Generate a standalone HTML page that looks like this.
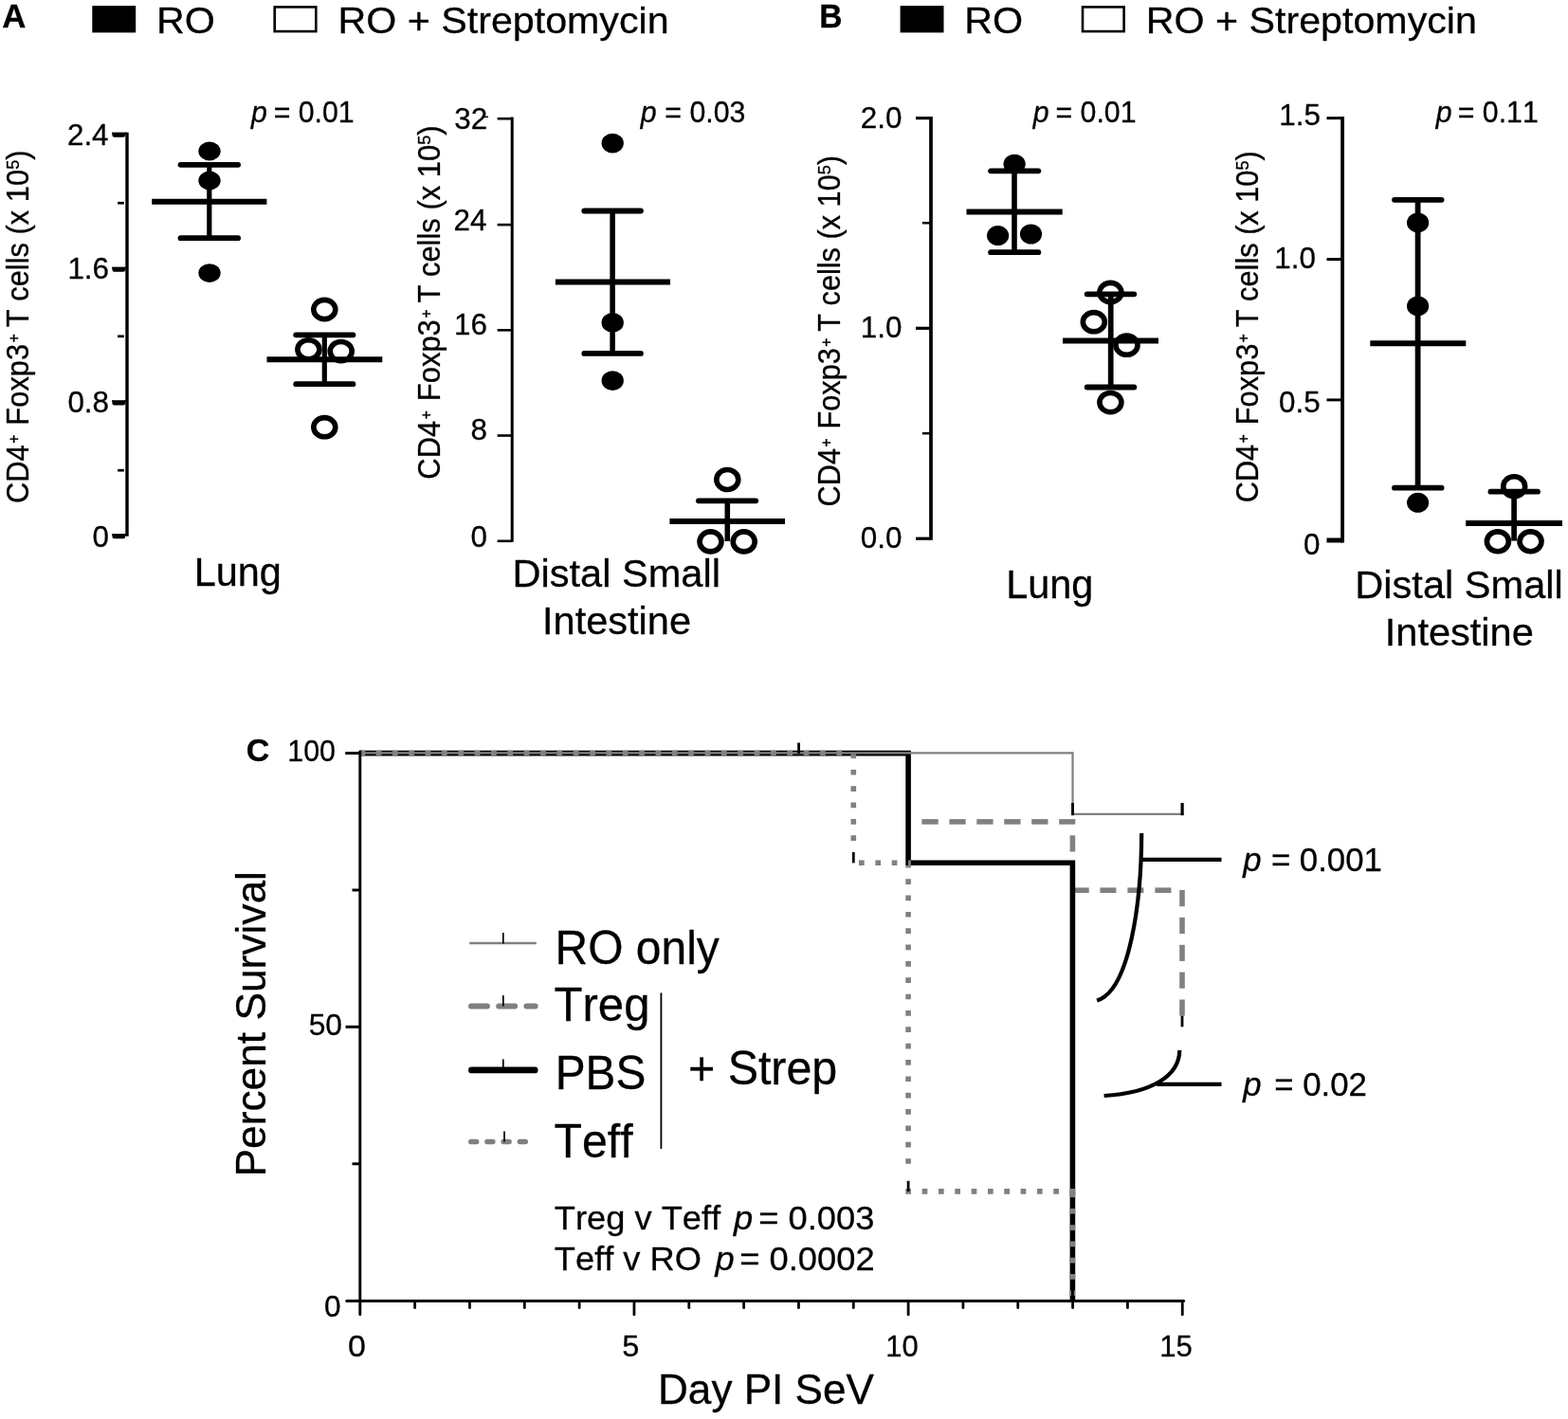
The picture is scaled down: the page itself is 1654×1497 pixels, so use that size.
<!DOCTYPE html>
<html lang="en"><head><meta charset="utf-8"><title>Figure</title>
<style>html,body{margin:0;padding:0;background:#fff}svg{display:block}text{font-family:"Liberation Sans",Arial,Helvetica,sans-serif;fill:#000;stroke:#000;stroke-width:0.3px;stroke-linejoin:round;font-kerning:none}</style>
</head><body>
<svg width="1654" height="1497" viewBox="0 0 1654 1497">
<rect width="1654" height="1497" fill="#fff"/>
<g id="legend-top">
<text transform="translate(2.33 28.8) scale(1.0000 0.9941)" font-size="34.78" font-weight="bold" stroke-width="0.2">A</text>
<text transform="translate(864.22 28.8) scale(1.0000 1.0287)" font-size="33.61" font-weight="bold" stroke-width="0.2">B</text>
<rect x="97.3" y="6.1" width="45.9" height="28.3"/>
<text transform="translate(164.94 34.8) scale(1.0000 0.9457)" font-size="41.31" stroke-width="0.3">RO</text>
<rect x="289.7" y="7.4" width="43.6" height="25.7" fill="#fff" stroke="#000" stroke-width="2.6"/>
<text transform="translate(356.55 35.1) scale(1.0000 0.9518)" font-size="41.2" stroke-width="0.3">RO + Streptomycin</text>
<rect x="949.6" y="6.1" width="45.9" height="28.3"/>
<text transform="translate(1017.24 34.8) scale(1.0000 0.9457)" font-size="41.31" stroke-width="0.3">RO</text>
<rect x="1142" y="7.4" width="43.6" height="25.7" fill="#fff" stroke="#000" stroke-width="2.6"/>
<text transform="translate(1208.85 35.1) scale(1.0000 0.9518)" font-size="41.2" stroke-width="0.3">RO + Streptomycin</text>
</g>
<g id="panelA-lung">
<line x1="134" y1="139.7" x2="134" y2="565.7" stroke="#000" stroke-width="3.4"/>
<line x1="118" y1="140.6" x2="134" y2="140.6" stroke="#000" stroke-width="2"/>
<line x1="120.6" y1="142.6" x2="130" y2="142.6" stroke="#000" stroke-width="4.4" stroke-linecap="round"/>
<text x="70.95" y="153.1" font-size="31.4" stroke-width="0.5">2.4</text>
<line x1="118" y1="282.6" x2="134" y2="282.6" stroke="#000" stroke-width="2"/>
<line x1="120.6" y1="284.6" x2="130" y2="284.6" stroke="#000" stroke-width="4.4" stroke-linecap="round"/>
<text x="71.42" y="294.3" font-size="31.4" stroke-width="0.5">1.6</text>
<line x1="118" y1="423.2" x2="134" y2="423.2" stroke="#000" stroke-width="2"/>
<line x1="120.6" y1="425.2" x2="130" y2="425.2" stroke="#000" stroke-width="4.4" stroke-linecap="round"/>
<text x="71.42" y="435.2" font-size="31.4" stroke-width="0.5">0.8</text>
<line x1="118" y1="564.1" x2="134" y2="564.1" stroke="#000" stroke-width="2"/>
<line x1="120.6" y1="566.1" x2="130" y2="566.1" stroke="#000" stroke-width="4.4" stroke-linecap="round"/>
<text x="97.48" y="576.8" font-size="31.4" stroke-width="0.5">0</text>
<line x1="124.1" y1="214.2" x2="130.8" y2="214.2" stroke="#000" stroke-width="2.7"/>
<line x1="124.1" y1="354.8" x2="130.8" y2="354.8" stroke="#000" stroke-width="2.7"/>
<line x1="124.1" y1="496.2" x2="130.8" y2="496.2" stroke="#000" stroke-width="2.7"/>
<text transform="translate(29.7 531.09) rotate(-90) scale(1.0028 1.0600)" font-size="30.8" stroke-width="0.3">CD4<tspan font-size="0.5em" dx="0.1em" dy="-0.58em" stroke-width="0.5">+</tspan><tspan dx="0.05em" dy="0.29em"> Foxp3</tspan><tspan font-size="0.5em" dx="0.1em" dy="-0.58em" stroke-width="0.5">+</tspan><tspan dx="-0.05em" dy="0.29em"> T cells (x 10</tspan><tspan font-size="0.59em" dy="-0.52em">5</tspan><tspan dy="0.307em">)</tspan></text>
<text transform="translate(264.46 128.8) scale(1 1.0325)" font-size="30.3" stroke-width="0.2"><tspan font-style="italic" dx="0.42">p</tspan><tspan dx="-1.5"> = 0.01</tspan></text>
<ellipse cx="342.3" cy="326.5" rx="11.5" ry="10.1" fill="none" stroke="#000" stroke-width="5.6"/>
<ellipse cx="325.4" cy="368.8" rx="11.5" ry="10.1" fill="none" stroke="#000" stroke-width="5.6"/>
<ellipse cx="359.7" cy="370.6" rx="11.5" ry="10.1" fill="none" stroke="#000" stroke-width="5.6"/>
<ellipse cx="342.3" cy="450.7" rx="11.5" ry="10.1" fill="none" stroke="#000" stroke-width="5.6"/>
<line x1="220.8" y1="173.8" x2="220.8" y2="251.2" stroke="#000" stroke-width="5.2"/>
<line x1="190.5" y1="173.8" x2="251.1" y2="173.8" stroke="#000" stroke-width="5.8" stroke-linecap="round"/>
<line x1="190.5" y1="251.2" x2="251.1" y2="251.2" stroke="#000" stroke-width="5.8" stroke-linecap="round"/>
<line x1="160.2" y1="212.8" x2="281.4" y2="212.8" stroke="#000" stroke-width="6"/>
<ellipse cx="221" cy="159.5" rx="11.65" ry="9.9"/>
<ellipse cx="221" cy="190.5" rx="11.65" ry="9.9"/>
<ellipse cx="221" cy="288.1" rx="11.65" ry="9.9"/>
<line x1="342.3" y1="353.3" x2="342.3" y2="405.2" stroke="#000" stroke-width="5.2"/>
<line x1="312.2" y1="353.3" x2="372.4" y2="353.3" stroke="#000" stroke-width="5.8" stroke-linecap="round"/>
<line x1="312.2" y1="405.2" x2="372.4" y2="405.2" stroke="#000" stroke-width="5.8" stroke-linecap="round"/>
<line x1="281.5" y1="379.2" x2="403.3" y2="379.2" stroke="#000" stroke-width="6"/>
<text transform="translate(204.73 618.4) scale(1.0000 1.0255)" font-size="41.44" stroke-width="0.3">Lung</text>
</g>
<g id="panelA-si">
<line x1="540.2" y1="123.5" x2="540.2" y2="571.8" stroke="#000" stroke-width="3"/>
<line x1="524.6" y1="125.2" x2="540.2" y2="125.2" stroke="#000" stroke-width="2.6"/>
<text x="479.37" y="135.7" font-size="31.4" stroke-width="0.5">32</text>
<line x1="524.6" y1="237.1" x2="540.2" y2="237.1" stroke="#000" stroke-width="2.6"/>
<text x="478.58" y="242.9" font-size="31.4" stroke-width="0.5">24</text>
<line x1="524.6" y1="348.3" x2="540.2" y2="348.3" stroke="#000" stroke-width="2.6"/>
<text x="479.05" y="353.4" font-size="31.4" stroke-width="0.5">16</text>
<line x1="524.6" y1="459.5" x2="540.2" y2="459.5" stroke="#000" stroke-width="2.6"/>
<text x="496.48" y="463.8" font-size="31.4" stroke-width="0.5">8</text>
<line x1="524.6" y1="570.8" x2="540.2" y2="570.8" stroke="#000" stroke-width="2.6"/>
<text x="496.48" y="576.8" font-size="31.4" stroke-width="0.5">0</text>
<line x1="508.8" y1="123.3" x2="515" y2="123.3" stroke="#000" stroke-width="1.5"/>
<text transform="translate(464.1 505.7) rotate(-90) scale(1.0042 1.0600)" font-size="30.8" stroke-width="0.3">CD4<tspan font-size="0.5em" dx="0.1em" dy="-0.58em" stroke-width="0.5">+</tspan><tspan dx="0.05em" dy="0.29em"> Foxp3</tspan><tspan font-size="0.5em" dx="0.1em" dy="-0.58em" stroke-width="0.5">+</tspan><tspan dx="-0.05em" dy="0.29em"> T cells (x 10</tspan><tspan font-size="0.59em" dy="-0.52em">5</tspan><tspan dy="0.307em">)</tspan></text>
<text transform="translate(675.26 128.6) scale(1 1.0325)" font-size="30.3" stroke-width="0.2"><tspan font-style="italic" dx="0.42">p</tspan><tspan dx="0.44"> = 0.03</tspan></text>
<ellipse cx="767.3" cy="506" rx="11.5" ry="10.5" fill="none" stroke="#000" stroke-width="5.6"/>
<ellipse cx="749.5" cy="571.4" rx="11.5" ry="10.5" fill="none" stroke="#000" stroke-width="5.6"/>
<ellipse cx="784.7" cy="571.4" rx="11.5" ry="10.5" fill="none" stroke="#000" stroke-width="5.6"/>
<line x1="646.1" y1="222.5" x2="646.1" y2="372.9" stroke="#000" stroke-width="5.5"/>
<line x1="616.3" y1="222.5" x2="675.9" y2="222.5" stroke="#000" stroke-width="5.8" stroke-linecap="round"/>
<line x1="616.3" y1="372.9" x2="675.9" y2="372.9" stroke="#000" stroke-width="5.8" stroke-linecap="round"/>
<line x1="585.9" y1="297.6" x2="707" y2="297.6" stroke="#000" stroke-width="6"/>
<ellipse cx="646.2" cy="151.1" rx="11.65" ry="10.3"/>
<ellipse cx="646.2" cy="340.4" rx="11.65" ry="10.3"/>
<ellipse cx="646.2" cy="401.6" rx="11.65" ry="10.3"/>
<line x1="767.3" y1="528.3" x2="767.3" y2="571" stroke="#000" stroke-width="5.6"/>
<line x1="736.9" y1="528.3" x2="797.2" y2="528.3" stroke="#000" stroke-width="5.8" stroke-linecap="round"/>
<line x1="706.4" y1="549.9" x2="828" y2="549.9" stroke="#000" stroke-width="6"/>
<text transform="translate(540.52 618.5) scale(1.0000 0.9981)" font-size="41.58" stroke-width="0.3">Distal Small</text>
<text x="572.01" y="668.5" font-size="41.54" stroke-width="0.3">Intestine</text>
</g>
<g id="panelB-lung">
<line x1="982" y1="123" x2="982" y2="569.8" stroke="#000" stroke-width="3.7"/>
<line x1="966" y1="124.6" x2="982" y2="124.6" stroke="#000" stroke-width="3.2"/>
<text x="907.76" y="135.4" font-size="31.4" stroke-width="0.5">2.0</text>
<line x1="966" y1="346.3" x2="982" y2="346.3" stroke="#000" stroke-width="3.2"/>
<text x="907.76" y="355.6" font-size="31.4" stroke-width="0.5">1.0</text>
<line x1="966" y1="568.2" x2="982" y2="568.2" stroke="#000" stroke-width="3.2"/>
<text x="907.76" y="578.3" font-size="31.4" stroke-width="0.5">0.0</text>
<line x1="972.9" y1="235.2" x2="982" y2="235.2" stroke="#000" stroke-width="2.5"/>
<line x1="972.9" y1="457.2" x2="982" y2="457.2" stroke="#000" stroke-width="2.5"/>
<text transform="translate(886.1 534.39) rotate(-90) scale(0.9968 1.0600)" font-size="30.8" stroke-width="0.3">CD4<tspan font-size="0.5em" dx="0.1em" dy="-0.58em" stroke-width="0.5">+</tspan><tspan dx="0.05em" dy="0.29em"> Foxp3</tspan><tspan font-size="0.5em" dx="0.1em" dy="-0.58em" stroke-width="0.5">+</tspan><tspan dx="-0.05em" dy="0.29em"> T cells (x 10</tspan><tspan font-size="0.59em" dy="-0.52em">5</tspan><tspan dy="0.307em">)</tspan></text>
<text transform="translate(1089.26 129.4) scale(1 1.0325)" font-size="30.3" stroke-width="0.2"><tspan font-style="italic" dx="0.42">p</tspan><tspan dx="-1.5"> = 0.01</tspan></text>
<ellipse cx="1171.4" cy="308.5" rx="11.5" ry="10.1" fill="none" stroke="#000" stroke-width="5.6"/>
<ellipse cx="1153.8" cy="339.7" rx="11.5" ry="10.1" fill="none" stroke="#000" stroke-width="5.6"/>
<ellipse cx="1188.5" cy="364.2" rx="11.5" ry="10.1" fill="none" stroke="#000" stroke-width="5.6"/>
<ellipse cx="1171.4" cy="424.6" rx="11.5" ry="10.1" fill="none" stroke="#000" stroke-width="5.6"/>
<line x1="1070" y1="180.3" x2="1070" y2="266.2" stroke="#000" stroke-width="5.6"/>
<line x1="1045.1" y1="180.3" x2="1095.3" y2="180.3" stroke="#000" stroke-width="5.8" stroke-linecap="round"/>
<line x1="1045.1" y1="266.2" x2="1095.3" y2="266.2" stroke="#000" stroke-width="5.8" stroke-linecap="round"/>
<line x1="1019.5" y1="223.5" x2="1120.7" y2="223.5" stroke="#000" stroke-width="6"/>
<ellipse cx="1070.1" cy="173.2" rx="11.6" ry="10.5"/>
<ellipse cx="1052.6" cy="248.6" rx="11.6" ry="10.5"/>
<ellipse cx="1087.5" cy="247" rx="11.6" ry="10.5"/>
<line x1="1171.7" y1="310.3" x2="1171.7" y2="408.5" stroke="#000" stroke-width="5.7"/>
<line x1="1146.7" y1="310.3" x2="1196.3" y2="310.3" stroke="#000" stroke-width="5.8" stroke-linecap="round"/>
<line x1="1146.7" y1="408.5" x2="1196.3" y2="408.5" stroke="#000" stroke-width="5.8" stroke-linecap="round"/>
<line x1="1121" y1="359.5" x2="1222" y2="359.5" stroke="#000" stroke-width="6"/>
<text transform="translate(1061.23 630.8) scale(1.0000 1.0255)" font-size="41.44" stroke-width="0.3">Lung</text>
</g>
<g id="panelB-si">
<line x1="1416.1" y1="123" x2="1416.1" y2="572.5" stroke="#000" stroke-width="3.8"/>
<line x1="1399.5" y1="124.6" x2="1416.1" y2="124.6" stroke="#000" stroke-width="3"/>
<text x="1349.26" y="132.3" font-size="31.4" stroke-width="0.5">1.5</text>
<line x1="1399.5" y1="273.6" x2="1416.1" y2="273.6" stroke="#000" stroke-width="3"/>
<text x="1344.26" y="282.6" font-size="31.4" stroke-width="0.5">1.0</text>
<line x1="1399.5" y1="421.9" x2="1416.1" y2="421.9" stroke="#000" stroke-width="2.9"/>
<text x="1349.06" y="434.5" font-size="31.4" stroke-width="0.5">0.5</text>
<line x1="1399.5" y1="570" x2="1416.1" y2="570" stroke="#000" stroke-width="5"/>
<text x="1375.08" y="584.6" font-size="31.4" stroke-width="0.5">0</text>
<text transform="translate(1326.7 530.29) rotate(-90) scale(0.9985 1.0600)" font-size="30.8" stroke-width="0.3">CD4<tspan font-size="0.5em" dx="0.1em" dy="-0.58em" stroke-width="0.5">+</tspan><tspan dx="0.05em" dy="0.29em"> Foxp3</tspan><tspan font-size="0.5em" dx="0.1em" dy="-0.58em" stroke-width="0.5">+</tspan><tspan dx="-0.05em" dy="0.29em"> T cells (x 10</tspan><tspan font-size="0.59em" dy="-0.52em">5</tspan><tspan dy="0.307em">)</tspan></text>
<text transform="translate(1514.26 129.4) scale(1 1.0325)" font-size="30.3" stroke-width="0.2"><tspan font-style="italic" dx="0.42">p</tspan><tspan dx="-2.2"> = 0.11</tspan></text>
<ellipse cx="1597.2" cy="513.2" rx="11.5" ry="10.4" fill="none" stroke="#000" stroke-width="5.6"/>
<ellipse cx="1579.9" cy="571.3" rx="11.5" ry="10.4" fill="none" stroke="#000" stroke-width="5.6"/>
<ellipse cx="1614.5" cy="571.3" rx="11.5" ry="10.4" fill="none" stroke="#000" stroke-width="5.6"/>
<line x1="1495.6" y1="210.8" x2="1495.6" y2="514.7" stroke="#000" stroke-width="5.8"/>
<line x1="1471" y1="210.8" x2="1520.6" y2="210.8" stroke="#000" stroke-width="5.8" stroke-linecap="round"/>
<line x1="1471" y1="514.7" x2="1520.6" y2="514.7" stroke="#000" stroke-width="5.8" stroke-linecap="round"/>
<line x1="1445.3" y1="362.3" x2="1546.3" y2="362.3" stroke="#000" stroke-width="6"/>
<ellipse cx="1495.6" cy="234.9" rx="11.6" ry="10.5"/>
<ellipse cx="1495.6" cy="322.9" rx="11.6" ry="10.5"/>
<ellipse cx="1495.6" cy="530.3" rx="11.6" ry="10.5"/>
<line x1="1597.1" y1="518.7" x2="1597.1" y2="570.6" stroke="#000" stroke-width="5.7"/>
<line x1="1572.4" y1="518.7" x2="1622" y2="518.7" stroke="#000" stroke-width="5.8" stroke-linecap="round"/>
<line x1="1546.2" y1="552.1" x2="1648" y2="552.1" stroke="#000" stroke-width="6"/>
<text transform="translate(1429.32 630.5) scale(1.0000 0.9981)" font-size="41.58" stroke-width="0.3">Distal Small</text>
<text x="1460.81" y="680.5" font-size="41.54" stroke-width="0.3">Intestine</text>
</g>
<g id="panelC">
<text x="259.64" y="802.8" font-size="34.05" font-weight="bold" stroke-width="0.2">C</text>
<line x1="972.4" y1="866.9" x2="989.7" y2="866.9" stroke="#808080" stroke-width="5.6"/>
<line x1="1001.35" y1="866.9" x2="1018.65" y2="866.9" stroke="#808080" stroke-width="5.6"/>
<line x1="1030.3" y1="866.9" x2="1047.6" y2="866.9" stroke="#808080" stroke-width="5.6"/>
<line x1="1059.25" y1="866.9" x2="1076.55" y2="866.9" stroke="#808080" stroke-width="5.6"/>
<line x1="1088.2" y1="866.9" x2="1105.5" y2="866.9" stroke="#808080" stroke-width="5.6"/>
<line x1="1117.15" y1="866.9" x2="1134.3" y2="866.9" stroke="#808080" stroke-width="5.6"/>
<line x1="1131.4" y1="881.3" x2="1131.4" y2="898.5" stroke="#808080" stroke-width="5.6"/>
<line x1="1131.4" y1="939.2" x2="1148.7" y2="939.2" stroke="#808080" stroke-width="5.6"/>
<line x1="1160.4" y1="939.2" x2="1177.4" y2="939.2" stroke="#808080" stroke-width="5.6"/>
<line x1="1189.4" y1="939.2" x2="1206.4" y2="939.2" stroke="#808080" stroke-width="5.6"/>
<line x1="1218.4" y1="939.2" x2="1235.4" y2="939.2" stroke="#808080" stroke-width="5.6"/>
<line x1="1247" y1="939" x2="1247" y2="956.2" stroke="#808080" stroke-width="5.6"/>
<line x1="1247" y1="967.9" x2="1247" y2="985" stroke="#808080" stroke-width="5.6"/>
<line x1="1247" y1="996.8" x2="1247" y2="1013.9" stroke="#808080" stroke-width="5.6"/>
<line x1="1247" y1="1025.6" x2="1247" y2="1042.7" stroke="#808080" stroke-width="5.6"/>
<line x1="1247" y1="1054.5" x2="1247" y2="1071.6" stroke="#808080" stroke-width="5.6"/>
<polyline points="379.8,794.6 958.1,794.6 958.1,910.2 1131.4,910.2 1131.4,1372.5" fill="none" stroke="#000" stroke-width="5.6"/>
<line x1="379.8" y1="794.6" x2="385.3" y2="794.6" stroke="#808080" stroke-width="5.6"/>
<line x1="379.8" y1="794.6" x2="897.5" y2="794.6" stroke="#808080" stroke-width="5.6" stroke-dasharray="5.7 11.65" stroke-dashoffset="0.55"/>
<line x1="900.3" y1="795.2" x2="900.3" y2="799.9" stroke="#808080" stroke-width="5.6"/>
<line x1="900.3" y1="800" x2="900.3" y2="893" stroke="#808080" stroke-width="5.6" stroke-dasharray="5.7 11.65" stroke-dashoffset="5.45"/>
<line x1="900.3" y1="910.2" x2="960.9" y2="910.2" stroke="#808080" stroke-width="5.6" stroke-dasharray="5.7 11.65" stroke-dashoffset="11.65"/>
<line x1="958.1" y1="913" x2="958.1" y2="1236" stroke="#808080" stroke-width="5.6" stroke-dasharray="5.7 11.65" stroke-dashoffset="3.15"/>
<line x1="955.3" y1="1256.9" x2="1134.2" y2="1256.9" stroke="#808080" stroke-width="5.6" stroke-dasharray="5.7 11.63" stroke-dashoffset="0"/>
<line x1="1131.4" y1="1256.9" x2="1131.4" y2="1371" stroke="#808080" stroke-width="5.6" stroke-dasharray="5.7 11.6" stroke-dashoffset="16.6"/>
<polyline points="379.8,794.4 1131.5,794.4 1131.5,858.9 1248.6,858.9" fill="none" stroke="#808080" stroke-width="2.2"/>
<line x1="842.6" y1="783.6" x2="842.6" y2="795" stroke="#000" stroke-width="2.8"/>
<line x1="1131.5" y1="847.1" x2="1131.5" y2="860.2" stroke="#000" stroke-width="2.8"/>
<line x1="1247.1" y1="847.1" x2="1247.1" y2="860.2" stroke="#000" stroke-width="3.2"/>
<line x1="1247" y1="1071.6" x2="1247" y2="1083.3" stroke="#000" stroke-width="2.8"/>
<line x1="900.3" y1="899" x2="900.3" y2="910.4" stroke="#000" stroke-width="2.8"/>
<line x1="958.1" y1="1245.8" x2="958.1" y2="1257" stroke="#000" stroke-width="2.8"/>
<line x1="1131.4" y1="1360.6" x2="1131.4" y2="1372.5" stroke="#000" stroke-width="2.8"/>
<line x1="379.8" y1="792.9" x2="379.8" y2="1386.8" stroke="#000" stroke-width="2.9" stroke-linecap="round"/>
<line x1="365.8" y1="1372.5" x2="1248.6" y2="1372.5" stroke="#000" stroke-width="3" stroke-linecap="round"/>
<line x1="364.2" y1="794.6" x2="379.8" y2="794.6" stroke="#000" stroke-width="2.9"/>
<line x1="364.6" y1="1083.3" x2="379.8" y2="1083.3" stroke="#000" stroke-width="3"/>
<line x1="371.5" y1="939" x2="379.8" y2="939" stroke="#000" stroke-width="2.9"/>
<line x1="371.5" y1="1227.8" x2="379.8" y2="1227.8" stroke="#000" stroke-width="2.9"/>
<line x1="437.63" y1="1372.5" x2="437.63" y2="1379.7" stroke="#000" stroke-width="2.8" stroke-linecap="round"/>
<line x1="495.46" y1="1372.5" x2="495.46" y2="1379.7" stroke="#000" stroke-width="2.8" stroke-linecap="round"/>
<line x1="553.29" y1="1372.5" x2="553.29" y2="1379.7" stroke="#000" stroke-width="2.8" stroke-linecap="round"/>
<line x1="611.12" y1="1372.5" x2="611.12" y2="1379.7" stroke="#000" stroke-width="2.8" stroke-linecap="round"/>
<line x1="668.95" y1="1372.5" x2="668.95" y2="1386.9" stroke="#000" stroke-width="2.8" stroke-linecap="round"/>
<line x1="726.78" y1="1372.5" x2="726.78" y2="1379.7" stroke="#000" stroke-width="2.8" stroke-linecap="round"/>
<line x1="784.61" y1="1372.5" x2="784.61" y2="1379.7" stroke="#000" stroke-width="2.8" stroke-linecap="round"/>
<line x1="842.44" y1="1372.5" x2="842.44" y2="1379.7" stroke="#000" stroke-width="2.8" stroke-linecap="round"/>
<line x1="900.27" y1="1372.5" x2="900.27" y2="1379.7" stroke="#000" stroke-width="2.8" stroke-linecap="round"/>
<line x1="958.1" y1="1372.5" x2="958.1" y2="1386.9" stroke="#000" stroke-width="2.8" stroke-linecap="round"/>
<line x1="1015.93" y1="1372.5" x2="1015.93" y2="1379.7" stroke="#000" stroke-width="2.8" stroke-linecap="round"/>
<line x1="1073.76" y1="1372.5" x2="1073.76" y2="1379.7" stroke="#000" stroke-width="2.8" stroke-linecap="round"/>
<line x1="1131.59" y1="1372.5" x2="1131.59" y2="1379.7" stroke="#000" stroke-width="2.8" stroke-linecap="round"/>
<line x1="1189.42" y1="1372.5" x2="1189.42" y2="1379.7" stroke="#000" stroke-width="2.8" stroke-linecap="round"/>
<line x1="1247.25" y1="1372.5" x2="1247.25" y2="1386.9" stroke="#000" stroke-width="2.8" stroke-linecap="round"/>
<text transform="translate(303.3 802.7) scale(1.0000 1.0402)" font-size="30.39" stroke-width="0.15">100</text>
<text transform="translate(325.71 1092) scale(1.0000 0.9958)" font-size="31.74" stroke-width="0.15">50</text>
<text transform="translate(342.11 1389) scale(1.0000 0.9976)" font-size="31.68" stroke-width="0.15">0</text>
<text transform="translate(367.01 1430.5) scale(1.0000 0.9380)" font-size="34" stroke-width="0.15">0</text>
<text transform="translate(656.17 1430.5) scale(1.0000 0.9805)" font-size="32.53" stroke-width="0.15">5</text>
<text transform="translate(934.35 1430.5) scale(1.0000 1.0305)" font-size="30.95" stroke-width="0.15">10</text>
<text transform="translate(1223.14 1430.5) scale(1.0000 1.0253)" font-size="31.11" stroke-width="0.15">15</text>
<text transform="translate(694.02 1481.4) scale(1.0000 1.0218)" font-size="44.11" stroke-width="0.1">Day PI SeV</text>
<text transform="translate(280.1 1241.44) rotate(-90) scale(0.9994 1.0100)" font-size="44.3" stroke="none">Percent Survival</text>
<line x1="495.2" y1="995" x2="565.8" y2="995" stroke="#808080" stroke-width="2.4"/>
<line x1="530.8" y1="984.1" x2="530.8" y2="995.5" stroke="#000" stroke-width="1.7"/>
<text transform="translate(585.62 1016.6) scale(1.0000 1.0238)" font-size="47.93" stroke-width="0.3">RO only</text>
<line x1="497" y1="1061.6" x2="564.6" y2="1061.6" stroke="#808080" stroke-width="6" stroke-linecap="round" stroke-dasharray="16.9 12.3"/>
<line x1="530.8" y1="1050.1" x2="530.8" y2="1061.6" stroke="#000" stroke-width="1.7"/>
<text transform="translate(584.52 1076.7) scale(1.0000 1.0050)" font-size="49.11" stroke-width="0.3">Treg</text>
<line x1="497.4" y1="1128.9" x2="564.2" y2="1128.9" stroke="#000" stroke-width="6.7" stroke-linecap="round"/>
<line x1="530.8" y1="1117.4" x2="530.8" y2="1128" stroke="#000" stroke-width="1.7"/>
<text transform="translate(585.63 1149) scale(1.0000 1.0329)" font-size="47.79" stroke-width="0.3">PBS</text>
<line x1="496.8" y1="1204.5" x2="556" y2="1204.5" stroke="#808080" stroke-width="5.6" stroke-linecap="round" stroke-dasharray="5.8 11.4"/>
<line x1="532" y1="1193.6" x2="532" y2="1204.5" stroke="#000" stroke-width="1.7"/>
<text transform="translate(584.54 1220.9) scale(1.0000 1.0173)" font-size="48.24" stroke-width="0.3">Teff</text>
<line x1="697.4" y1="1047.4" x2="697.4" y2="1211.9" stroke="#000" stroke-width="1.8"/>
<text transform="translate(725.93 1144.4) scale(1.0000 1.0260)" font-size="48.39" stroke-width="0.3">+ Strep</text>
<text transform="translate(584.79 1296.6) scale(1 0.9878)" font-size="36.3" stroke-width="0.2">Treg v Teff <tspan font-style="italic" dx="3.74">p</tspan><tspan dx="-3.95"> = 0.003</tspan></text>
<text transform="translate(584.79 1339.6) scale(1 0.9878)" font-size="36.3" stroke-width="0.2">Teff v RO <tspan font-style="italic" dx="4.29">p</tspan><tspan dx="-4.32"> = 0.0002</tspan></text>
<path d="M1204.2,878.9 C1204,950 1192,1045 1157.1,1055.6" fill="none" stroke="#000" stroke-width="4.2"/>
<line x1="1205.1" y1="906.8" x2="1288.5" y2="906.8" stroke="#000" stroke-width="4.2"/>
<text transform="translate(1310.87 918.8) scale(1 1.0057)" font-size="34.8" stroke-width="0.2"><tspan font-style="italic" dx="0.48">p</tspan><tspan dx="0.53"> = 0.001</tspan></text>
<path d="M1244.3,1107.9 C1244,1135 1215,1153 1164.6,1156" fill="none" stroke="#000" stroke-width="4.2"/>
<line x1="1220.1" y1="1143.8" x2="1288.5" y2="1143.8" stroke="#000" stroke-width="4.2"/>
<text transform="translate(1310.87 1156) scale(1 1.0057)" font-size="34.8" stroke-width="0.2"><tspan font-style="italic" dx="0.48">p</tspan><tspan dx="3.92"> = 0.02</tspan></text>
</g>
</svg>
</body></html>
